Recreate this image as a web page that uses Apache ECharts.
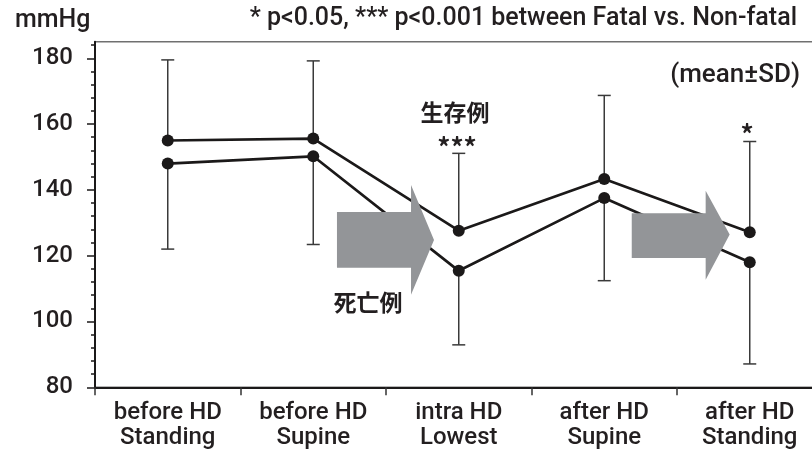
<!DOCTYPE html>
<html>
<head>
<meta charset="utf-8">
<script src="https://cdn.jsdelivr.net/npm/echarts@6/dist/echarts.min.js"></script>
<style>
  html, body { margin: 0; padding: 0; background: #ffffff; }
  #chart { width: 812px; height: 455px; }
</style>
</head>
<body>
<div id="chart"></div>
<script>
// Blood pressure course around haemodialysis (mean ± SD), survivors vs fatal cases
const categories = [
  'before HD\nStanding',
  'before HD\nSupine',
  'intra HD\nLowest',
  'after HD\nSupine',
  'after HD\nStanding'
];
const survivorMean = [155.0, 155.6, 127.6, 143.3, 127.1];
const survivorSD   = [24.5, 23.6, 23.5, 25.4, 27.6];
const fatalMean    = [148.0, 150.2, 115.4, 137.5, 118.0];
const fatalSD      = [26.0, 26.8, 22.5, 25.1, 30.9];
const yMajorTicks  = [80, 100, 120, 140, 160, 180];
const yMinorTicks  = [84, 88, 92, 96, 104, 108, 112, 116, 124, 128, 132, 136,
                      144, 148, 152, 156, 164, 168, 172, 176, 184];

const INK = '#1b1919';
const TEXT = '#231f20';
const LATIN = "Roboto, 'Liberation Sans', sans-serif";
const CJK = "'Noto Sans CJK JP', sans-serif";

// vertical SD whisker with a horizontal cap at its far end
function whisker(params, api) {
  const base = api.coord([api.value(0), api.value(1)]);
  const end = api.coord([api.value(0), api.value(2)]);
  const half = 6.5;
  const style = { stroke: '#3a3a3a', lineWidth: 1.5 };
  return {
    type: 'group',
    children: [
      { type: 'line', shape: { x1: base[0], y1: base[1], x2: end[0], y2: end[1] }, style },
      { type: 'line', shape: { x1: end[0] - half, y1: end[1], x2: end[0] + half, y2: end[1] }, style }
    ]
  };
}

// block arrows, described in (category position, mmHg)
const arrowShapes = [
  { x0: 1.163, x1: 1.672, x2: 1.83, body: [116.3, 133.3], head: [108.1, 141.5], tip: 124.8 },
  { x0: 3.189, x1: 3.697, x2: 3.862, body: [119.3, 132.9], head: [112.7, 139.7], tip: 126.4 }
];

function arrows(params, api) {
  const at = (c, v) => {
    const i = Math.floor(c);
    const a = api.coord([i, v]);
    const b = api.coord([i + 1, v]);
    return [a[0] + (b[0] - a[0]) * (c - i), a[1]];
  };
  return {
    type: 'group',
    children: arrowShapes.map(s => ({
      type: 'polygon',
      shape: {
        points: [
          at(s.x0, s.body[1]), at(s.x1, s.body[1]), at(s.x1, s.head[1]),
          at(s.x2, s.tip),
          at(s.x1, s.head[0]), at(s.x1, s.body[0]), at(s.x0, s.body[0])
        ]
      },
      style: { fill: '#939598' }
    }))
  };
}

const chart = echarts.init(document.getElementById('chart'), null, { renderer: 'canvas' });

chart.setOption({
  animation: false,
  backgroundColor: '#ffffff',
  grid: {
    left: 95, top: 41.8, right: -10.5, bottom: 67.7,
    show: true, borderColor: '#707070', borderWidth: 1.5,
    outerBoundsMode: 'none'
  },
  xAxis: {
    type: 'category',
    data: categories,
    boundaryGap: true,
    axisLine: { lineStyle: { color: INK, width: 2 } },
    axisTick: { show: true, length: 8, lineStyle: { color: '#333333', width: 1.5 } },
    axisLabel: {
      interval: 0, margin: 13, color: TEXT,
      fontFamily: LATIN, fontWeight: 500, fontSize: 24, lineHeight: 25
    },
    splitLine: { show: false }
  },
  yAxis: [
    {
      type: 'value', min: 80, max: 185,
      axisLine: { show: true, lineStyle: { color: INK, width: 2 } },
      axisTick: { show: true, length: 8, customValues: yMajorTicks, lineStyle: { color: INK, width: 1.5 } },
      axisLabel: {
        customValues: yMajorTicks, margin: 22, color: TEXT,
        fontFamily: LATIN, fontWeight: 500, fontSize: 24
      },
      splitLine: { show: false }
    },
    {
      type: 'value', min: 80, max: 185, position: 'left',
      axisLine: { show: false },
      axisTick: { show: true, length: 4, customValues: yMinorTicks, lineStyle: { color: INK, width: 1.5 } },
      axisLabel: { show: false },
      splitLine: { show: false }
    }
  ],
  series: [
    {
      name: 'survivor SD', type: 'custom', renderItem: whisker, z: 1, silent: true,
      encode: { x: 0, y: [1, 2] },
      data: survivorMean.map((m, i) => [i, m, m + survivorSD[i]])
    },
    {
      name: 'fatal SD', type: 'custom', renderItem: whisker, z: 1, silent: true,
      encode: { x: 0, y: [1, 2] },
      data: fatalMean.map((m, i) => [i, m, m - fatalSD[i]])
    },
    {
      name: '生存例', type: 'line', data: survivorMean, z: 3,
      symbol: 'circle', symbolSize: 12,
      lineStyle: { color: INK, width: 2.7 }, itemStyle: { color: INK }
    },
    {
      name: '死亡例', type: 'line', data: fatalMean, z: 3,
      symbol: 'circle', symbolSize: 12,
      lineStyle: { color: INK, width: 2.7 }, itemStyle: { color: INK }
    },
    {
      name: 'arrows', type: 'custom', renderItem: arrows, z: 5, silent: true, clip: false,
      encode: { x: 0, y: 1 },
      data: [[0, 100]]
    }
  ],
  graphic: [
    { type: 'text', x: 15, y: 21, style: { text: 'mmHg', font: `500 25px ${LATIN}`, fill: TEXT, textVerticalAlign: 'middle' } },
    { type: 'text', x: 797, y: 19, style: { text: '* p<0.05, *** p<0.001 between Fatal vs. Non-fatal', font: `500 25px ${LATIN}`, fill: TEXT, textAlign: 'right', textVerticalAlign: 'middle' } },
    { type: 'text', x: 800, y: 75, style: { text: '(mean±SD)', font: `500 26px ${LATIN}`, fill: TEXT, textAlign: 'right', textVerticalAlign: 'middle' } },
    { type: 'text', x: 455, y: 112, style: { text: '生存例', font: `600 23px ${CJK}`, fill: TEXT, textAlign: 'center', textVerticalAlign: 'middle' } },
    { type: 'text', x: 457, y: 147, style: { text: '***', font: `bold 26px ${CJK}`, fill: TEXT, textAlign: 'center', textVerticalAlign: 'middle' } },
    { type: 'text', x: 368, y: 302, style: { text: '死亡例', font: `600 23px ${CJK}`, fill: TEXT, textAlign: 'center', textVerticalAlign: 'middle' } },
    { type: 'text', x: 747, y: 134, style: { text: '*', font: `bold 26px ${CJK}`, fill: TEXT, textAlign: 'center', textVerticalAlign: 'middle' } }
  ]
});
</script>
</body>
</html>
